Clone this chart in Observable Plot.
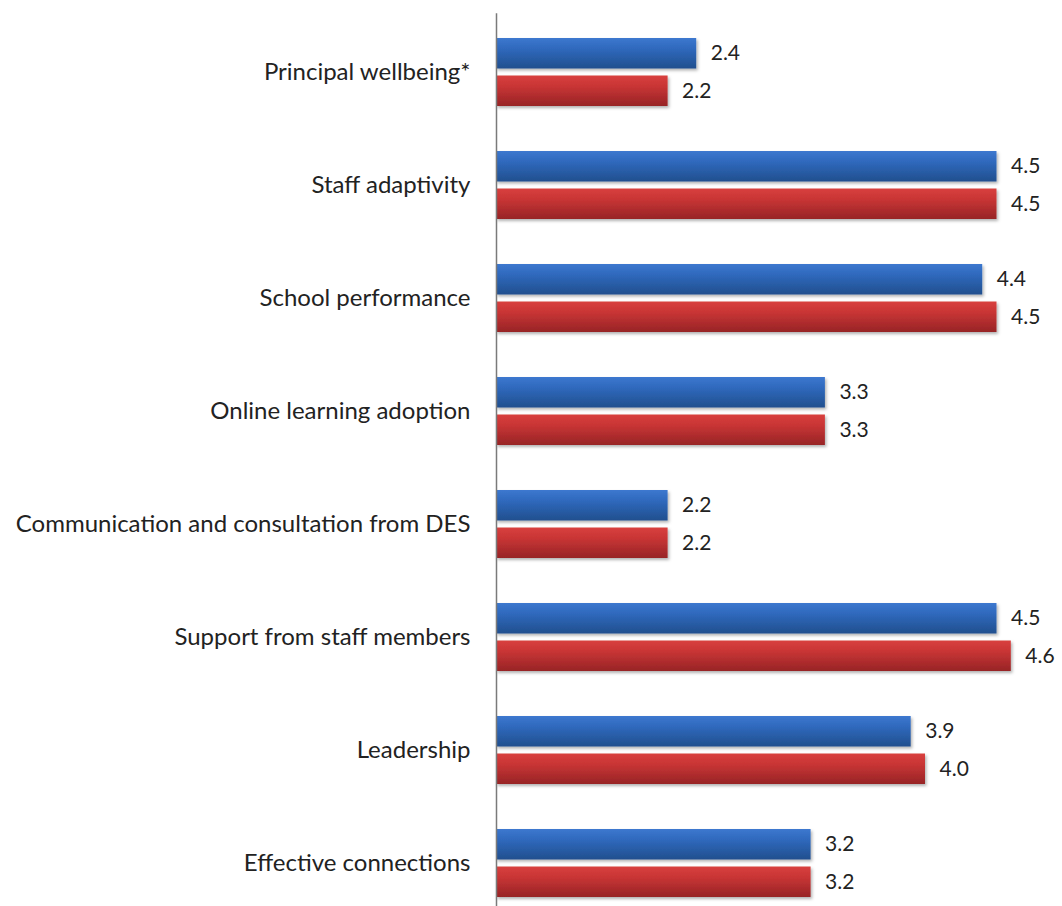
<!DOCTYPE html>
<html>
<head>
<meta charset="utf-8">
<script src="https://cdn.jsdelivr.net/npm/d3@7"></script>
<script src="https://cdn.jsdelivr.net/npm/@observablehq/plot@0.6"></script>
<style>
  html, body { margin: 0; padding: 0; background: #fff; }
  #chart { width: 1062px; height: 906px; overflow: hidden; }
</style>
</head>
<body>
<div id="chart"></div>
<script>
const categories = [
  "Principal wellbeing*",
  "Staff adaptivity",
  "School performance",
  "Online learning adoption",
  "Communication and consultation from DES",
  "Support from staff members",
  "Leadership",
  "Effective connections"
];
const blueValues = [2.4, 4.5, 4.4, 3.3, 2.2, 4.5, 3.9, 3.2];
const redValues  = [2.2, 4.5, 4.5, 3.3, 2.2, 4.6, 4.0, 3.2];
const scaleMin = 1;
const scaleMax = 5;

const blueData = categories.map((c, i) => ({category: c, value: blueValues[i]}));
const redData  = categories.map((c, i) => ({category: c, value: redValues[i]}));

const font = "Lato, 'Open Sans', sans-serif";
const half = 37.5;

const svg = Plot.plot({
  width: 1062,
  height: 906,
  marginLeft: 496,
  marginRight: -6,
  marginTop: 14.3,
  marginBottom: -14.7,
  style: {fontFamily: font, fontSize: "21px", color: "#222", background: "#fff"},
  x: {domain: [scaleMin, scaleMax], axis: null},
  y: {domain: categories, paddingInner: 0.4, paddingOuter: 0.2, axis: null},
  marks: [
    Plot.barX(blueData, {
      y: "category", x1: scaleMin, x2: "value",
      fill: "url(#gradBlue)", insetBottom: half
    }),
    Plot.barX(redData, {
      y: "category", x1: scaleMin, x2: "value",
      fill: "url(#gradRed)", insetTop: half
    }),
    Plot.ruleX([scaleMin], {stroke: "#7a7a7a", strokeWidth: 1.5, insetTop: -1, insetBottom: -15}),
    Plot.text(blueData, {
      y: "category", x: "value", text: d => d.value.toFixed(1),
      textAnchor: "start", dx: 14, dy: -18.75, fill: "#222", fontSize: 21
    }),
    Plot.text(redData, {
      y: "category", x: "value", text: d => d.value.toFixed(1),
      textAnchor: "start", dx: 14, dy: 18.75, fill: "#222", fontSize: 21
    }),
    Plot.text(categories, {
      y: d => d, x: scaleMin, text: d => d,
      textAnchor: "end", dx: -26, fill: "#222", fontSize: 24
    })
  ]
});

// gradients and soft shadow to mimic the 3D-ish bar look
const defs = d3.select(svg).insert("defs", ":first-child");
function grad(id, top, mid, bottom) {
  const g = defs.append("linearGradient").attr("id", id)
    .attr("x1", 0).attr("y1", 0).attr("x2", 0).attr("y2", 1);
  g.append("stop").attr("offset", "0%").attr("stop-color", top);
  g.append("stop").attr("offset", "35%").attr("stop-color", mid);
  g.append("stop").attr("offset", "100%").attr("stop-color", bottom);
}
grad("gradBlue", "#3d78cf", "#2f69bd", "#214f8e");
grad("gradRed", "#d8403e", "#c93535", "#972426");
const f = defs.append("filter").attr("id", "shadow")
  .attr("x", "-5%").attr("y", "-20%").attr("width", "110%").attr("height", "150%");
f.append("feDropShadow").attr("dx", 1.5).attr("dy", 2).attr("stdDeviation", 1.5)
  .attr("flood-color", "#000").attr("flood-opacity", 0.3);
d3.select(svg).selectAll("rect").filter(function() {
  const fill = this.getAttribute("fill") || (this.parentNode && this.parentNode.getAttribute("fill"));
  return fill && fill.startsWith("url");
}).attr("filter", "url(#shadow)");

document.getElementById("chart").appendChild(svg);
</script>
</body>
</html>
